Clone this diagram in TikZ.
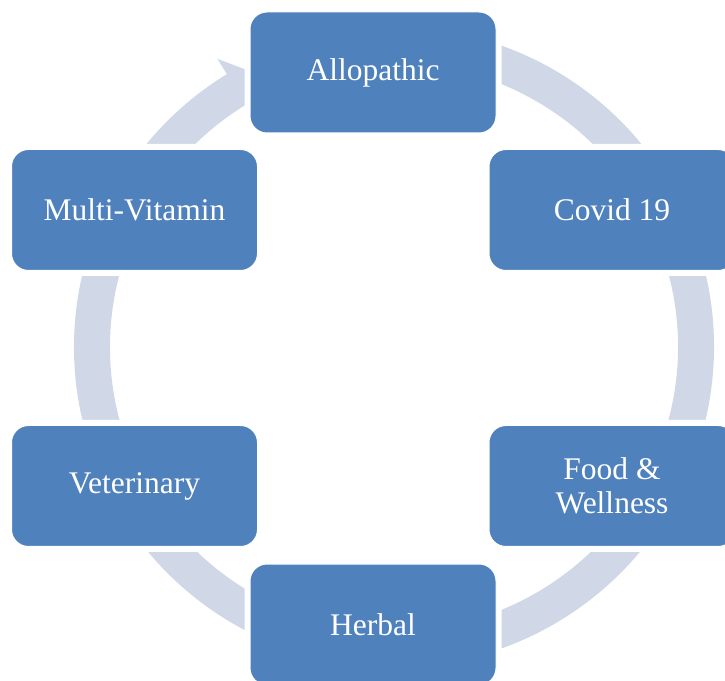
\documentclass[tikz,border=0pt]{standalone}
\usepackage{fontspec}
\setmainfont{Liberation Serif}
\usetikzlibrary{calc}
\definecolor{boxblue}{RGB}{79,129,189}
\definecolor{ringc}{RGB}{208,216,232}
\begin{document}
\begin{tikzpicture}[x=1pt,y=1pt,
  cyclebox/.style={rectangle, rounded corners=17pt, fill=boxblue, draw=white,
    line width=1pt, minimum width=246pt, minimum height=121pt, text=white,
    font=\fontsize{31.5}{34}\selectfont, align=center, inner sep=0pt,
    preaction={draw=white, line width=11pt}}]
\useasboundingbox (0,0) rectangle (725,680);
\clip (0,0) rectangle (725,680);
\coordinate (C) at (394,333);
% cycle ring with arrowhead pointing to the first box
\fill[ringc] ($(C)+(121.5:320)$) arc[start angle=121.5, end angle=476, radius=320]
  -- ($(C)+(476:284)$) arc[start angle=476, end angle=121.5, radius=284]
  -- ($(C)+(121.5:266)$) -- ($(C)+(116:302)$) -- ($(C)+(121.5:338)$) -- cycle;
% boxes
\node[cyclebox] (allo) at (373,607.5) {Allopathic};
\node[cyclebox] (covid) at (612,470) {Covid 19};
\node[cyclebox] (food) at (612,194) {Food \&\\Wellness};
\node[cyclebox] (herbal) at (373,55.5) {Herbal};
\node[cyclebox] (vet) at (134.5,194) {\raisebox{-2pt}{Veterinary}};
\node[cyclebox] (multi) at (134.5,470) {Multi-Vitamin};
\end{tikzpicture}
\end{document}
